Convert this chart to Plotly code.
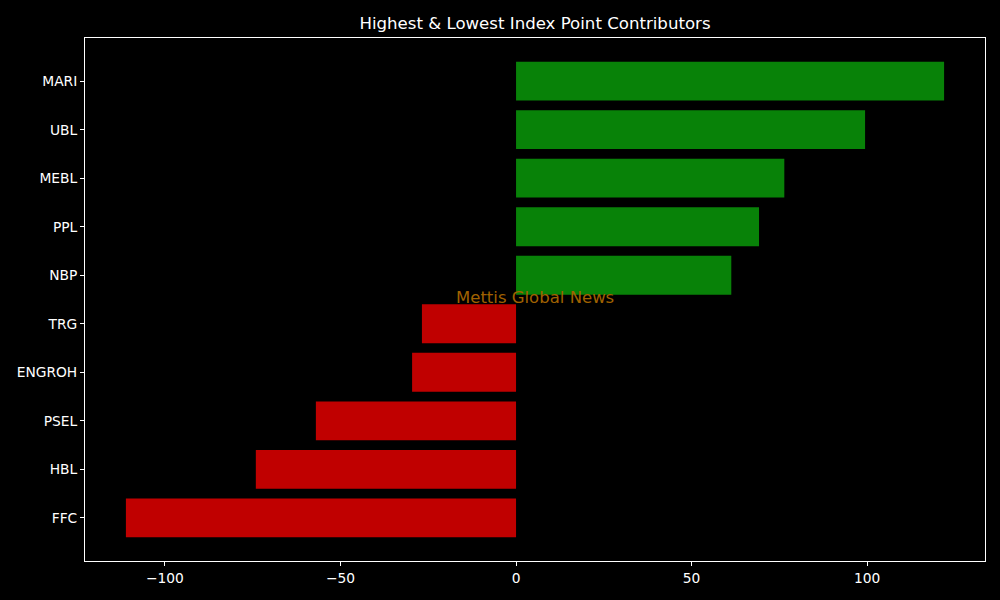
import plotly.graph_objects as go

categories = ["MARI", "UBL", "MEBL", "PPL", "NBP", "TRG", "ENGROH", "PSEL", "HBL", "FFC"]
values = [121.9, 99.4, 76.4, 69.2, 61.3, -26.8, -29.6, -57.0, -74.1, -111.1]
tick_vals = [-100, -50, 0, 50, 100]

colors = ["rgb(8,130,8)" if v >= 0 else "rgb(192,0,0)" for v in values]

fig = go.Figure(go.Bar(
    x=values, y=categories, orientation="h",
    marker=dict(color=colors, line=dict(width=0)),
    width=0.8,
))

font = dict(family="DejaVu Sans", color="white", size=13.8)
fig.update_layout(
    width=1000, height=600,
    paper_bgcolor="black", plot_bgcolor="black",
    margin=dict(l=85, r=15, t=38, b=39),
    title=dict(text="Highest & Lowest Index Point Contributors", x=0.5, xref="paper",
               xanchor="center", y=1 - 23 / 600, yanchor="middle",
               font=dict(family="DejaVu Sans", color="white", size=16.6)),
    font=font,
    showlegend=False,
    bargap=0.2,
)
fig.update_xaxes(
    range=[-122.75, 133.55], tickvals=tick_vals, showgrid=False, zeroline=False,
    showline=True, mirror=True, linecolor="white", linewidth=1,
    ticks="outside", ticklen=4, tickcolor="white", tickfont=font,
)
fig.update_yaxes(
    type="category", categoryorder="array", categoryarray=categories,
    range=[9.89, -0.89], showgrid=False, zeroline=False,
    showline=True, mirror=True, linecolor="white", linewidth=1,
    ticks="outside", ticklen=4, tickcolor="white", tickfont=font,
)
fig.add_annotation(
    text="Mettis Global News", x=0.5, y=0.503, xref="paper", yref="paper",
    showarrow=False, font=dict(family="DejaVu Sans", size=16.5, color="rgb(160,98,0)"),
)
fig.write_html(
    "out.html",
    config={"displayModeBar": False},
    post_script="document.body.style.margin='0';document.body.style.background='black';",
)
